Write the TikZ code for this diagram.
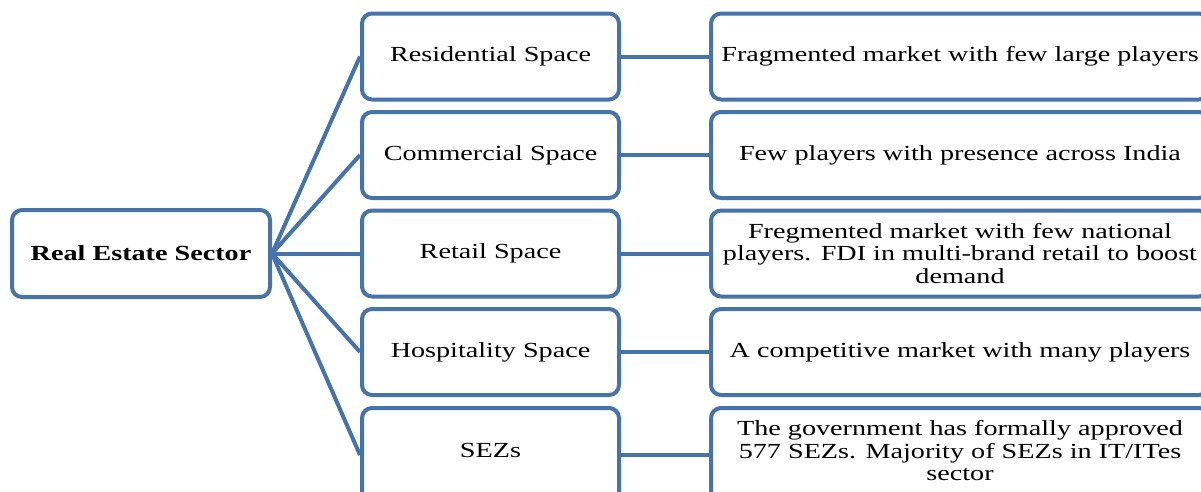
\documentclass[tikz,border=0pt]{standalone}
\usepackage{fontspec}
\newfontfamily\rfont[FakeStretch=1.31]{Liberation Serif}
\definecolor{boxblue}{RGB}{70,115,170}
\begin{document}
\begin{tikzpicture}[x=1pt,y=-1pt,
  box/.style={draw=boxblue,line width=4pt,rounded corners=10pt,fill=white,
    inner sep=0pt,align=center,
    font=\rfont\fontsize{21.5}{22.5}\selectfont},
  lbox/.style={box,minimum width=258pt,minimum height=87pt},
  mbox/.style={box,minimum width=257pt,minimum height=86pt},
  rbox/.style={box,minimum width=498pt,minimum height=86pt},
  lastrow/.style={minimum height=94pt,text depth=9pt},
  conn/.style={draw=boxblue,line width=4pt}]
\useasboundingbox (0,0) rectangle (1201,491);
\node[lbox] (root) at (141,253.5) {\bfseries Real Estate Sector};
\node[mbox] (m1) at (490.5,56.5) {Residential Space};
\node[mbox] (m2) at (490.5,155) {Commercial Space};
\node[mbox] (m3) at (490.5,253.5) {Retail Space};
\node[mbox] (m4) at (490.5,352) {Hospitality Space};
\node[mbox,lastrow] (m5) at (490.5,455) {SEZs};
\node[rbox] (r1) at (960,56.5) {Fragmented market with few large players};
\node[rbox] (r2) at (960,155) {Few players with presence across India};
\node[rbox] (r3) at (960,253.5) {Fregmented market with few national\\players. FDI in multi-brand retail to boost\\demand};
\node[rbox] (r4) at (960,352) {A competitive market with many players};
\node[rbox,lastrow] (r5) at (960,455) {The government has formally approved\\577 SEZs. Majority of SEZs in IT/ITes\\sector};
\foreach \i in {1,...,5}{
  \draw[conn] (root.east) -- (m\i.west);
  \draw[conn] (m\i.east) -- (r\i.west);
}
\end{tikzpicture}
\end{document}
